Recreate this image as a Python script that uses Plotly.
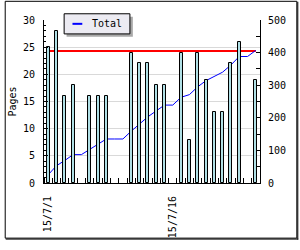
import plotly.graph_objects as go

# ---- data ----
dates = ["2015-07-01", "2015-07-02", "2015-07-03", "2015-07-04", "2015-07-05",
         "2015-07-06", "2015-07-07", "2015-07-08", "2015-07-09", "2015-07-10",
         "2015-07-11", "2015-07-12", "2015-07-13", "2015-07-14", "2015-07-15",
         "2015-07-16", "2015-07-17", "2015-07-18", "2015-07-19", "2015-07-20",
         "2015-07-21", "2015-07-22", "2015-07-23", "2015-07-24", "2015-07-25",
         "2015-07-26"]
pages = [25, 28, 16, 18, None, 16, 16, 16, None, None,
         24, 22, 22, 18, 18, None, 24, 8, 24, 19,
         13, 13, 22, 26, None, 19]
total = [25, 53, 69, 87, 87, 103, 119, 135, 135, 135,
         159, 181, 203, 221, 239, 239, 263, 271, 295, 314,
         327, 340, 362, 388, 388, 407]
goal = 405
legend_label = "Total"

FONT = "DejaVu Sans Mono"
W, H = 300, 250
L, R, T, B = 40, 40, 20, 60
PW, PH = W - L - R, H - T - B
DAY = 86400000


def px(x):
    return (x - L) / PW


def py(y):
    return (T + PH - y) / PH


fig = go.Figure()

# goal line and cumulative line on the main (right) axis -> drawn below the bars
fig.add_trace(go.Scatter(x=[dates[0], dates[-1]], y=[goal, goal], mode="lines",
                         line=dict(color="#ff0000", width=2), showlegend=False,
                         xaxis="x", yaxis="y", hoverinfo="skip"))
fig.add_trace(go.Scatter(x=dates, y=total, mode="lines", name=legend_label,
                         line=dict(color="#0000ff", width=1), showlegend=False,
                         xaxis="x", yaxis="y"))
# bars on the overlaying (left, Pages) axis
fig.add_trace(go.Bar(x=dates, y=pages, width=0.36 * DAY,
                     marker=dict(color="#b0e0e6", line=dict(color="black", width=1)),
                     showlegend=False, xaxis="x", yaxis="y2"))

shapes = []
# figure border with a darker right/bottom edge
shapes.append(dict(type="rect", xref="paper", yref="paper",
                   x0=px(0.5), x1=px(297.5), y0=py(247.5), y1=py(0.5),
                   line=dict(color="black", width=1), fillcolor="rgba(0,0,0,0)", layer="above"))
shapes.append(dict(type="line", xref="paper", yref="paper",
                   x0=px(298.5), x1=px(298.5), y0=py(249), y1=py(1),
                   line=dict(color="black", width=1)))
shapes.append(dict(type="line", xref="paper", yref="paper",
                   x0=px(1), x1=px(299), y0=py(248.5), y1=py(248.5),
                   line=dict(color="black", width=1)))
# legend shadow, box, key line
shapes.append(dict(type="rect", xref="paper", yref="paper",
                   x0=px(63), x1=px(130.5), y0=py(37.5), y1=py(16.5),
                   line=dict(width=0), fillcolor="#a8a8a8"))
shapes.append(dict(type="rect", xref="paper", yref="paper",
                   x0=px(60.5), x1=px(127.5), y0=py(34.5), y1=py(13.5),
                   line=dict(color="black", width=1), fillcolor="#ecebf2"))
shapes.append(dict(type="line", xref="paper", yref="paper",
                   x0=px(69), x1=px(79), y0=py(24), y1=py(24),
                   line=dict(color="#0000ff", width=2)))

fig.update_layout(
    width=W, height=H,
    margin=dict(l=L, r=R, t=T, b=B, pad=0),
    paper_bgcolor="white", plot_bgcolor="white",
    font=dict(family=FONT, size=10, color="black"),
    showlegend=False,
    bargap=0,
    shapes=shapes,
    annotations=[dict(text=legend_label, xref="paper", yref="paper",
                      x=px(86.5), y=py(24), xanchor="left", yanchor="middle",
                      showarrow=False, font=dict(family=FONT, size=10, color="black"))],
    xaxis=dict(
        type="date",
        range=["2015-06-30 12:00", "2015-07-26 12:00"],
        tick0="2015-07-01", dtick=15 * DAY,
        tickformat="%y/%-m/%-d", tickangle=-90,
        ticks="", showgrid=False, zeroline=False,
        showline=True, linecolor="black", linewidth=1,
        ticklabelstandoff=8,
        minor=dict(dtick=DAY, tick0="2015-06-30 12:00", ticks="inside",
                   ticklen=5, tickcolor="black", showgrid=False),
    ),
    yaxis=dict(
        side="right", range=[0, 500], dtick=100,
        ticks="inside", ticklen=4, tickcolor="black",
        showgrid=False, zeroline=False,
        showline=True, linecolor="black", linewidth=1,
        ticklabelstandoff=5,
        minor=dict(dtick=50, ticks="inside", ticklen=4, tickcolor="black", showgrid=False),
    ),
    yaxis2=dict(
        overlaying="y", side="left", range=[0, 30], dtick=5,
        ticks="inside", ticklen=4, tickcolor="black",
        showgrid=True, gridcolor="#d9d9d9", gridwidth=1, zeroline=False,
        showline=True, linecolor="black", linewidth=1,
        ticklabelstandoff=6,
        minor=dict(dtick=1, ticks="inside", ticklen=2, tickcolor="black", showgrid=False),
        title=dict(text="Pages", standoff=4, font=dict(family=FONT, size=10)),
    ),
)

fig.write_html("out.html")
